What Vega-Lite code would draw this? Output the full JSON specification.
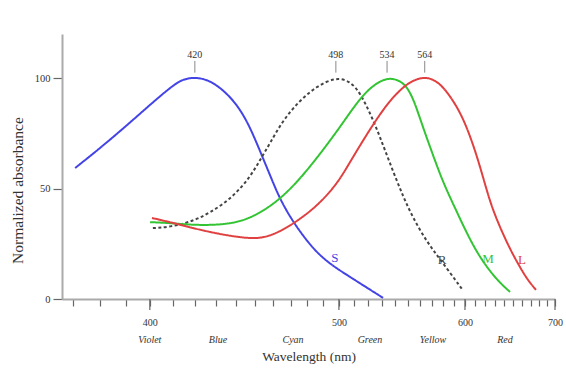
{
  "$schema": "https://vega.github.io/schema/vega-lite/v6.json",
  "width": 493,
  "height": 265,
  "autosize": {"type": "none"},
  "padding": {"left": 62, "top": 34, "right": 11, "bottom": 75},
  "background": "white",
  "config": {
    "view": {"stroke": null},
    "font": "Liberation Serif",
    "axis": {"labelFont": "Liberation Serif", "titleFont": "Liberation Serif", "titleFontWeight": "normal", "grid": false}
  },
  "datasets": {
    "curves": [
      {"cone": "S", "wl": 370.7, "abs": 59.3}, {"cone": "S", "wl": 380, "abs": 68.3}, {"cone": "S", "wl": 390.6, "abs": 78.7},
      {"cone": "S", "wl": 401.3, "abs": 89.1}, {"cone": "S", "wl": 410.1, "abs": 96.8}, {"cone": "S", "wl": 414.5, "abs": 99.5},
      {"cone": "S", "wl": 420, "abs": 100.5}, {"cone": "S", "wl": 427.2, "abs": 99.1}, {"cone": "S", "wl": 435.6, "abs": 93.2},
      {"cone": "S", "wl": 442.2, "abs": 86}, {"cone": "S", "wl": 447.4, "abs": 77.8}, {"cone": "S", "wl": 452.8, "abs": 67},
      {"cone": "S", "wl": 459.4, "abs": 53.8}, {"cone": "S", "wl": 463.9, "abs": 45.2}, {"cone": "S", "wl": 471.4, "abs": 34.8},
      {"cone": "S", "wl": 483.4, "abs": 22.6}, {"cone": "S", "wl": 494.2, "abs": 15.8}, {"cone": "S", "wl": 507.4, "abs": 10},
      {"cone": "S", "wl": 531, "abs": 0.5},
      {"cone": "R", "wl": 401.3, "abs": 32.1}, {"cone": "R", "wl": 408.7, "abs": 32.6}, {"cone": "R", "wl": 417.8, "abs": 34.8},
      {"cone": "R", "wl": 427.2, "abs": 38.9}, {"cone": "R", "wl": 438.6, "abs": 46.2}, {"cone": "R", "wl": 447.4, "abs": 55.2},
      {"cone": "R", "wl": 452.8, "abs": 62.9}, {"cone": "R", "wl": 458.3, "abs": 70.6}, {"cone": "R", "wl": 465.6, "abs": 81},
      {"cone": "R", "wl": 475.5, "abs": 90}, {"cone": "R", "wl": 485.9, "abs": 96.4}, {"cone": "R", "wl": 498, "abs": 100.5},
      {"cone": "R", "wl": 507.4, "abs": 98.6}, {"cone": "R", "wl": 514.3, "abs": 93.7}, {"cone": "R", "wl": 523.6, "abs": 81.4},
      {"cone": "R", "wl": 531, "abs": 69.7}, {"cone": "R", "wl": 538.5, "abs": 57.9}, {"cone": "R", "wl": 546.3, "abs": 46.6},
      {"cone": "R", "wl": 554.3, "abs": 36.7}, {"cone": "R", "wl": 565.9, "abs": 25.8}, {"cone": "R", "wl": 577.1, "abs": 18.1},
      {"cone": "R", "wl": 597.2, "abs": 4.5},
      {"cone": "M", "wl": 400.1, "abs": 34.8}, {"cone": "M", "wl": 408.7, "abs": 34.4}, {"cone": "M", "wl": 419.1, "abs": 33.5},
      {"cone": "M", "wl": 430.6, "abs": 33.5}, {"cone": "M", "wl": 442.2, "abs": 34.8}, {"cone": "M", "wl": 452.8, "abs": 38.9},
      {"cone": "M", "wl": 463.9, "abs": 45.2}, {"cone": "M", "wl": 475.5, "abs": 54.3}, {"cone": "M", "wl": 487.8, "abs": 65.6},
      {"cone": "M", "wl": 500.7, "abs": 77.8}, {"cone": "M", "wl": 510.9, "abs": 87.8}, {"cone": "M", "wl": 521.4, "abs": 95.9},
      {"cone": "M", "wl": 534, "abs": 100.5}, {"cone": "M", "wl": 543.9, "abs": 99}, {"cone": "M", "wl": 550.3, "abs": 95.5},
      {"cone": "M", "wl": 555.9, "abs": 88.7}, {"cone": "M", "wl": 562.5, "abs": 77.8}, {"cone": "M", "wl": 571, "abs": 65.2},
      {"cone": "M", "wl": 579.8, "abs": 52.9}, {"cone": "M", "wl": 590.7, "abs": 41.2}, {"cone": "M", "wl": 604.8, "abs": 26.7},
      {"cone": "M", "wl": 617.7, "abs": 16.7}, {"cone": "M", "wl": 632.1, "abs": 8.6}, {"cone": "M", "wl": 646.2, "abs": 3.2},
      {"cone": "L", "wl": 400.9, "abs": 36.7}, {"cone": "L", "wl": 408.7, "abs": 34.8}, {"cone": "L", "wl": 419.1, "abs": 32.1},
      {"cone": "L", "wl": 430.6, "abs": 29.6}, {"cone": "L", "wl": 442.2, "abs": 27.9}, {"cone": "L", "wl": 450.1, "abs": 27.4},
      {"cone": "L", "wl": 456.6, "abs": 28.1}, {"cone": "L", "wl": 465.6, "abs": 31.2}, {"cone": "L", "wl": 475.5, "abs": 36.2},
      {"cone": "L", "wl": 485.9, "abs": 42.1}, {"cone": "L", "wl": 498.8, "abs": 52}, {"cone": "L", "wl": 507.4, "abs": 62},
      {"cone": "L", "wl": 523.6, "abs": 79.2}, {"cone": "L", "wl": 536.2, "abs": 90}, {"cone": "L", "wl": 546.3, "abs": 95.9},
      {"cone": "L", "wl": 554.3, "abs": 99.1}, {"cone": "L", "wl": 564, "abs": 100.5}, {"cone": "L", "wl": 571, "abs": 99.5},
      {"cone": "L", "wl": 579.8, "abs": 96.4}, {"cone": "L", "wl": 592.5, "abs": 87.3}, {"cone": "L", "wl": 601.9, "abs": 77.8},
      {"cone": "L", "wl": 611.7, "abs": 64.7}, {"cone": "L", "wl": 619.7, "abs": 52}, {"cone": "L", "wl": 627.9, "abs": 39.8},
      {"cone": "L", "wl": 642.9, "abs": 25.3}, {"cone": "L", "wl": 654, "abs": 16.7}, {"cone": "L", "wl": 665.5, "abs": 9},
      {"cone": "L", "wl": 676.2, "abs": 4.1}
    ],
    "peaks": [
      {"wl": 420, "label": "420"}, {"wl": 498, "label": "498"}, {"wl": 534, "label": "534"}, {"wl": 564, "label": "564"}
    ],
    "majors": [{"wl": 400}, {"wl": 500}, {"wl": 600}, {"wl": 700}],
    "conelabels": [
      {"cone": "S", "wl": 497.4, "abs": 18.5}, {"cone": "R", "wl": 578.9, "abs": 17.6},
      {"cone": "M", "wl": 622.8, "abs": 18}, {"cone": "L", "wl": 659.7, "abs": 17.6}
    ],
    "colours": [
      {"name": "Violet", "wl": 400}, {"name": "Blue", "wl": 431.1}, {"name": "Cyan", "wl": 471.4},
      {"name": "Green", "wl": 521.4}, {"name": "Yellow", "wl": 571}, {"name": "Red", "wl": 640.7}
    ]
  },
  "layer": [
    {
      "data": {"name": "curves"},
      "mark": {"type": "line", "interpolate": "basis", "strokeWidth": 2},
      "encoding": {
        "x": {
          "field": "wl", "type": "quantitative",
          "scale": {"type": "pow", "exponent": -1, "domain": [366, 700], "nice": false, "zero": false},
          "axis": {
            "title": "Wavelength (nm)", "titleFontSize": 13.5, "titlePadding": 22, "titleColor": "#333",
            "values": [370, 380, 390, 400, 410, 420, 430, 440, 450, 460, 470, 480, 490, 500, 510, 520, 530, 540, 550, 560, 570, 580, 590, 600, 610, 620, 630, 640, 650, 660, 670, 680, 690, 700],
            "tickCount": 100,
            "labelExpr": "datum.value % 100 === 0 ? datum.label : ''",
            "labelFontSize": 10, "labelColor": "#333", "labelPadding": 11, "tickSize": 7, "tickColor": "#666", "tickWidth": 1.2,
            "domainColor": "#aaa", "domainWidth": 2, "labelFlush": false, "labelOverlap": false
          }
        },
        "y": {
          "field": "abs", "type": "quantitative",
          "scale": {"domain": [0, 120], "nice": false},
          "axis": {
            "title": "Normalized absorbance", "titleFontSize": 15.5, "titlePadding": 9, "titleColor": "#333", "titleY": 156,
            "values": [0, 50, 100], "labelFontSize": 10.5, "labelColor": "#333", "labelPadding": 3,
            "tickSize": 9, "tickColor": "#666", "tickWidth": 1.2, "domainColor": "#aaa", "domainWidth": 2
          }
        },
        "color": {"field": "cone", "type": "nominal", "scale": {"domain": ["S", "R", "M", "L"], "range": ["#4444e6", "#444444", "#33c433", "#e04040"]}, "legend": null},
        "strokeDash": {"field": "cone", "type": "nominal", "scale": {"domain": ["S", "R", "M", "L"], "range": [[1, 0], [3, 2.5], [1, 0], [1, 0]]}, "legend": null}
      }
    },
    {
      "data": {"name": "majors"},
      "mark": {"type": "rule", "color": "#666", "strokeWidth": 1.2},
      "encoding": {
        "x": {"field": "wl", "type": "quantitative"},
        "y": {"datum": 0},
        "y2": {"datum": -5}
      }
    },
    {
      "data": {"name": "peaks"},
      "mark": {"type": "rule", "color": "#888", "strokeWidth": 1},
      "encoding": {
        "x": {"field": "wl", "type": "quantitative"},
        "y": {"datum": 102.5},
        "y2": {"datum": 107.8}
      }
    },
    {
      "data": {"name": "peaks"},
      "mark": {"type": "text", "fontSize": 10, "color": "#333", "baseline": "middle"},
      "encoding": {
        "x": {"field": "wl", "type": "quantitative"},
        "y": {"datum": 110.5},
        "text": {"field": "label"}
      }
    },
    {
      "data": {"name": "conelabels"},
      "mark": {"type": "text", "fontSize": 13, "baseline": "middle"},
      "encoding": {
        "x": {"field": "wl", "type": "quantitative"},
        "y": {"field": "abs", "type": "quantitative"},
        "text": {"field": "cone"},
        "color": {"field": "cone", "type": "nominal", "legend": null}
      }
    },
    {
      "data": {"name": "colours"},
      "mark": {"type": "text", "fontSize": 10, "fontStyle": "italic", "color": "#333", "baseline": "middle"},
      "encoding": {
        "x": {"field": "wl", "type": "quantitative"},
        "y": {"datum": -18.5},
        "text": {"field": "name"}
      }
    }
  ]
}
